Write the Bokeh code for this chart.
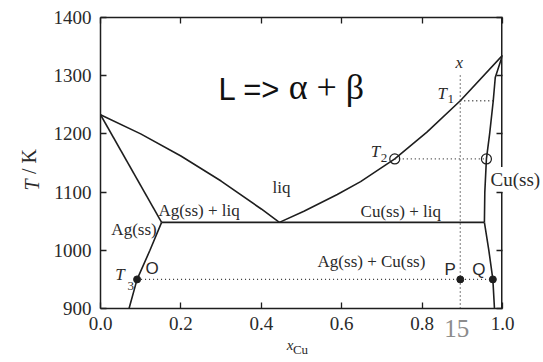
import math
from bokeh.plotting import figure
from bokeh.models import Range1d, LinearAxis, FixedTicker, Label
from bokeh.embed import file_html
from bokeh.resources import INLINE

# ---------------- data ----------------
x_ticks = [0.0, 0.2, 0.4, 0.6, 0.8, 1.0]
T_ticks = [900, 1000, 1100, 1200, 1300, 1400]

ag_liquidus_x = [0.0, 0.1, 0.2, 0.3, 0.4, 0.445]
ag_liquidus_T = [1233, 1200, 1162, 1119, 1071, 1048]
cu_liquidus_x = [0.445, 0.506, 0.589, 0.647, 0.732, 0.812, 0.895, 1.0]
cu_liquidus_T = [1048, 1067, 1096, 1118, 1157, 1203, 1257, 1335]
ag_solidus_x = [0.0, 0.152]
ag_solidus_T = [1233, 1048]
ag_solvus_x = [0.152, 0.123, 0.091, 0.071]
ag_solvus_T = [1048, 1000, 950, 900]
cu_solidus_x = [1.0, 0.982, 0.977, 0.968, 0.960, 0.956, 0.955]
cu_solidus_T = [1335, 1297, 1257, 1200, 1157, 1100, 1048]
cu_solvus_x = [0.955, 0.966, 0.976, 0.980]
cu_solvus_T = [1048, 1000, 950, 900]
eutectic_x = [0.152, 0.955]
eutectic_T = [1048, 1048]

# dotted construction lines
alloy_x = [0.895, 0.895]
alloy_T = [900, 1305]
t1_x = [0.895, 0.977]
t1_T = [1257, 1257]
t2_x = [0.732, 0.960]
t2_T = [1157, 1157]
t3_x = [0.091, 0.976]
t3_T = [950, 950]

open_pts_x = [0.732, 0.960]
open_pts_T = [1157, 1157]
dot_pts_x = [0.091, 0.895, 0.976]
dot_pts_T = [950, 950, 950]

# right frame edge is interrupted behind the "Cu(ss)" label
frame_gap_T = [1100, 1143]

INK = "#1e1e1e"
TXT = "#2a2a2a"
SERIF = "Liberation Serif"
SANS = "Liberation Sans"

p = figure(width=543, height=362, x_range=Range1d(0, 1), y_range=Range1d(900, 1400),
           output_backend="svg", toolbar_location=None,
           min_border_left=100, min_border_right=41, min_border_top=17, min_border_bottom=54)
p.xgrid.visible = False
p.ygrid.visible = False
p.outline_line_color = None
p.background_fill_color = "white"
p.border_fill_color = "white"


def style_axis(ax, ticks, show_labels, standoff, line=True):
    ax.ticker = FixedTicker(ticks=ticks)
    ax.axis_line_color = INK if line else None
    ax.axis_line_width = 1.5
    ax.major_tick_line_color = INK
    ax.major_tick_line_width = 1.3
    ax.major_tick_in = 6
    ax.major_tick_out = 0
    ax.minor_tick_line_color = None
    ax.major_label_text_font = SERIF
    if show_labels:
        ax.major_label_text_color = TXT
        ax.major_label_text_font_size = "19px"
        ax.major_label_standoff = standoff
    else:
        ax.major_label_text_color = None
        ax.major_label_text_font_size = "1px"
        ax.major_label_standoff = 0


style_axis(p.xaxis[0], x_ticks, True, 8)
p.xaxis[0].major_label_overrides = {0.0: "0.0", 1.0: "1.0"}
style_axis(p.yaxis[0], T_ticks, True, 9)

top_ax = LinearAxis()
style_axis(top_ax, x_ticks, False, 0)
p.add_layout(top_ax, "above")
right_ax = LinearAxis()
style_axis(right_ax, T_ticks, False, 0, line=False)
p.add_layout(right_ax, "right")


def text_axis(side, tick, text, size, standoff, style="normal", color=TXT,
              font=SERIF, orientation="horizontal"):
    ax = LinearAxis(ticker=FixedTicker(ticks=[tick]), major_label_overrides={tick: text})
    ax.axis_line_color = None
    ax.major_tick_line_color = None
    ax.minor_tick_line_color = None
    ax.major_tick_in = 0
    ax.major_tick_out = 0
    ax.major_label_text_font = font
    ax.major_label_text_font_size = f"{size}px"
    ax.major_label_text_font_style = style
    ax.major_label_text_color = color
    ax.major_label_standoff = standoff
    ax.major_label_orientation = orientation
    p.add_layout(ax, side)


# texts outside the frame (page number, axis titles, Cu(ss) label)
text_axis("below", 0.886, "15", 25, -13, color="#8c8c8c")
text_axis("below", 0.4714, "x", 15, -3, style="italic")
text_axis("below", 0.4975, "Cu", 13, -14)
text_axis("left", 1112.2, "T", 20, 7, style="italic", orientation="vertical")
text_axis("left", 1152.6, "/ K", 20, -22, orientation="vertical")
text_axis("right", 1121, "Cu(ss)", 19, -12)

# right frame edge (drawn in two pieces, leaving the gap behind the label)
p.line([1.0, 1.0], [900, frame_gap_T[0]], line_color=INK, line_width=3)
p.line([1.0, 1.0], [frame_gap_T[1], 1400], line_color=INK, line_width=3)

# phase boundaries
for xs, ts in [(ag_liquidus_x, ag_liquidus_T), (cu_liquidus_x, cu_liquidus_T),
               (ag_solidus_x, ag_solidus_T), (ag_solvus_x, ag_solvus_T),
               (cu_solidus_x, cu_solidus_T), (cu_solvus_x, cu_solvus_T),
               (eutectic_x, eutectic_T)]:
    p.line(xs, ts, line_color=INK, line_width=1.6)

for xs, ts in [(alloy_x, alloy_T), (t1_x, t1_T), (t2_x, t2_T), (t3_x, t3_T)]:
    p.line(xs, ts, line_color="#333333", line_width=1.3, line_dash="1 3")

p.scatter(open_pts_x, open_pts_T, marker="circle", size=10, fill_color=None,
          line_color=INK, line_width=1.2)
p.scatter(dot_pts_x, dot_pts_T, marker="circle", size=7, fill_color=INK, line_color=INK)


def lab(x, y, text, size, font=SERIF, style="normal", color=TXT, **kw):
    p.add_layout(Label(x=x, y=y, text=text, text_font=font, text_font_size=f"{size}px",
                       text_font_style=style, text_color=color,
                       text_align="left", text_baseline="alphabetic", **kw))


lab(0.2935, 1277, "L =>", 31, font=SANS, color="#111111")
lab(0.468, 1280, "\u03b1 + \u03b2", 36, font=SERIF, color="#111111")

lab(0.428, 1107.5, "liq", 17)
lab(0.144, 1067.9, "Ag(ss) + liq", 17)
lab(0.027, 1035.4, "Ag(ss)", 17)
lab(0.647, 1066.9, "Cu(ss) + liq", 17)
lab(0.540, 980.4, "Ag(ss) + Cu(ss)", 17)

lab(0.112, 968.3, "O", 17, font=SANS)
lab(0.856, 966.6, "P", 17, font=SANS)
lab(0.925, 966.6, "Q", 17, font=SANS)

lab(0.037, 957.9, "T", 17, style="italic")
lab(0.067, 938.6, "3", 13)
lab(0.672, 1169.4, "T", 17, style="italic")
lab(0.697, 1158.6, "2", 13)
lab(0.838, 1268.9, "T", 17, style="italic")
lab(0.863, 1259.6, "1", 13)
lab(0.883, 1322.3, "x", 17, style="italic")

open("out.html", "w").write(file_html(p, INLINE))
